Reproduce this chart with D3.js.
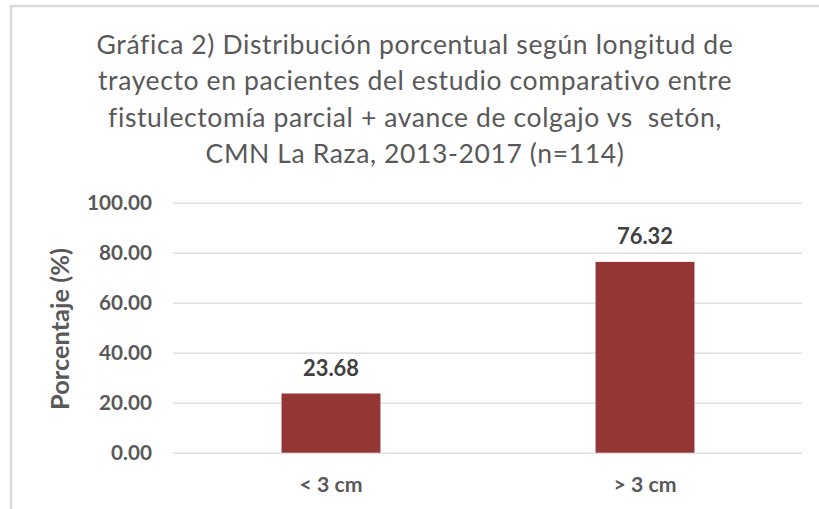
<!DOCTYPE html>
<html>
<head>
<meta charset="utf-8">
<script src="https://cdn.jsdelivr.net/npm/d3@7"></script>
<style>
  html, body { margin: 0; padding: 0; background: #fff; }
  svg { display: block; }
  text { font-family: Lato, "Open Sans", sans-serif; font-variant-ligatures: none; font-feature-settings: "liga" 0, "clig" 0; }
</style>
</head>
<body>
<svg id="chart" width="819" height="509"></svg>
<script>
// ---- data ----
const categories = ["< 3 cm", "> 3 cm"];
const values = [23.68, 76.32];
const valueLabels = ["23.68", "76.32"];
const yTicks = [0, 20, 40, 60, 80, 100];
const titleLines = [
  "Gráfica 2) Distribución porcentual según longitud de",
  "trayecto en pacientes del estudio comparativo entre",
  "fistulectomía parcial + avance de colgajo vs  setón,",
  "CMN La Raza, 2013-2017 (n=114)"
];
const yTitle = "Porcentaje (%)";

// ---- layout ----
const W = 819, H = 509;
const plot = { left: 174, right: 802, top: 202.7, bottom: 452.7 };
const svg = d3.select("#chart");

function measure(str, weight, size, spacing) {
  const t = svg.append("text").attr("font-size", size).attr("font-weight", weight)
    .attr("letter-spacing", spacing || 0)
    .style("white-space", "pre").text(str);
  const w = t.node().getComputedTextLength();
  t.remove();
  return w;
}
// fit a font size so that a text reaches a target width
function fitSize(str, weight, target, base) {
  return base * target / measure(str, weight, base);
}
// fit letter-spacing for a given size
function fitSpacing(str, weight, target, size) {
  const w = measure(str, weight, size);
  return (target - w) / str.length;
}

// chart area border (cropped at right and bottom)
svg.append("rect")
  .attr("x", 11).attr("y", 6).attr("width", W + 20).attr("height", H + 20)
  .attr("fill", "#fff").attr("stroke", "#d9d9d9").attr("stroke-width", 2.5);

const x = d3.scaleBand().domain(categories)
  .range([plot.left, plot.right])
  .paddingInner(0.685).paddingOuter(0.685 / 2);
const y = d3.scaleLinear().domain([0, 100]).range([plot.bottom, plot.top]);

// gridlines + y tick labels
const yAxis = d3.axisLeft(y).tickValues(yTicks)
  .tickSize(-(plot.right - plot.left)).tickPadding(22)
  .tickFormat(d3.format(".2f"));
const tickSize = fitSize("100.00", "bold", 65, 20);
const gy = svg.append("g").attr("transform", `translate(${plot.left},0)`).call(yAxis);
gy.select(".domain").remove();
gy.selectAll(".tick line").attr("stroke", "#d9d9d9").attr("stroke-width", 1.3)
  .attr("x1", -1);
gy.selectAll(".tick text")
  .attr("fill", "#595959").attr("font-weight", "bold")
  .attr("font-size", tickSize).attr("font-family", "Lato, sans-serif")
  .attr("dy", "0.35em");

// bars
svg.append("g").selectAll("rect").data(values).join("rect")
  .attr("x", (d, i) => x(categories[i]))
  .attr("width", x.bandwidth())
  .attr("y", d => y(d))
  .attr("height", d => y(0) - y(d))
  .attr("fill", "#943634");

// value labels
const valSize = fitSize("23.68", "bold", 56, 20);
svg.append("g").selectAll("text").data(values).join("text")
  .attr("x", (d, i) => x(categories[i]) + x.bandwidth() / 2)
  .attr("y", d => y(d) - 18)
  .attr("text-anchor", "middle")
  .attr("font-weight", "bold").attr("font-size", valSize)
  .attr("fill", "#404040")
  .text((d, i) => valueLabels[i]);

// x axis category labels
const xAxis = d3.axisBottom(x).tickSize(0).tickPadding(0);
const catSize = fitSize("< 3 cm", "bold", 63, 20);
const gx = svg.append("g").attr("transform", `translate(0,${plot.bottom})`).call(xAxis);
gx.select(".domain").remove();
gx.selectAll(".tick text")
  .attr("fill", "#595959").attr("font-weight", "bold")
  .attr("font-size", catSize).attr("font-family", "Lato, sans-serif")
  .attr("dy", 0).attr("y", 39);

// y axis title
const ytSize = fitSize(yTitle, "bold", 162, 20);
svg.append("text")
  .attr("transform", `translate(69,329) rotate(-90)`)
  .attr("text-anchor", "middle")
  .attr("font-weight", "bold").attr("font-size", ytSize)
  .attr("fill", "#595959")
  .text(yTitle);

// title
const titleSize = 26.5;
const titleSpacing = fitSpacing(titleLines[2], "normal", 614, titleSize);
const title = svg.append("text")
  .attr("text-anchor", "middle")
  .attr("font-size", titleSize)
  .attr("letter-spacing", titleSpacing)
  .attr("fill", "#595959")
  .style("white-space", "pre");
title.selectAll("tspan").data(titleLines).join("tspan")
  .attr("x", 415)
  .attr("y", (d, i) => 53.5 + i * 36.6)
  .text(d => d);
</script>
</body>
</html>
